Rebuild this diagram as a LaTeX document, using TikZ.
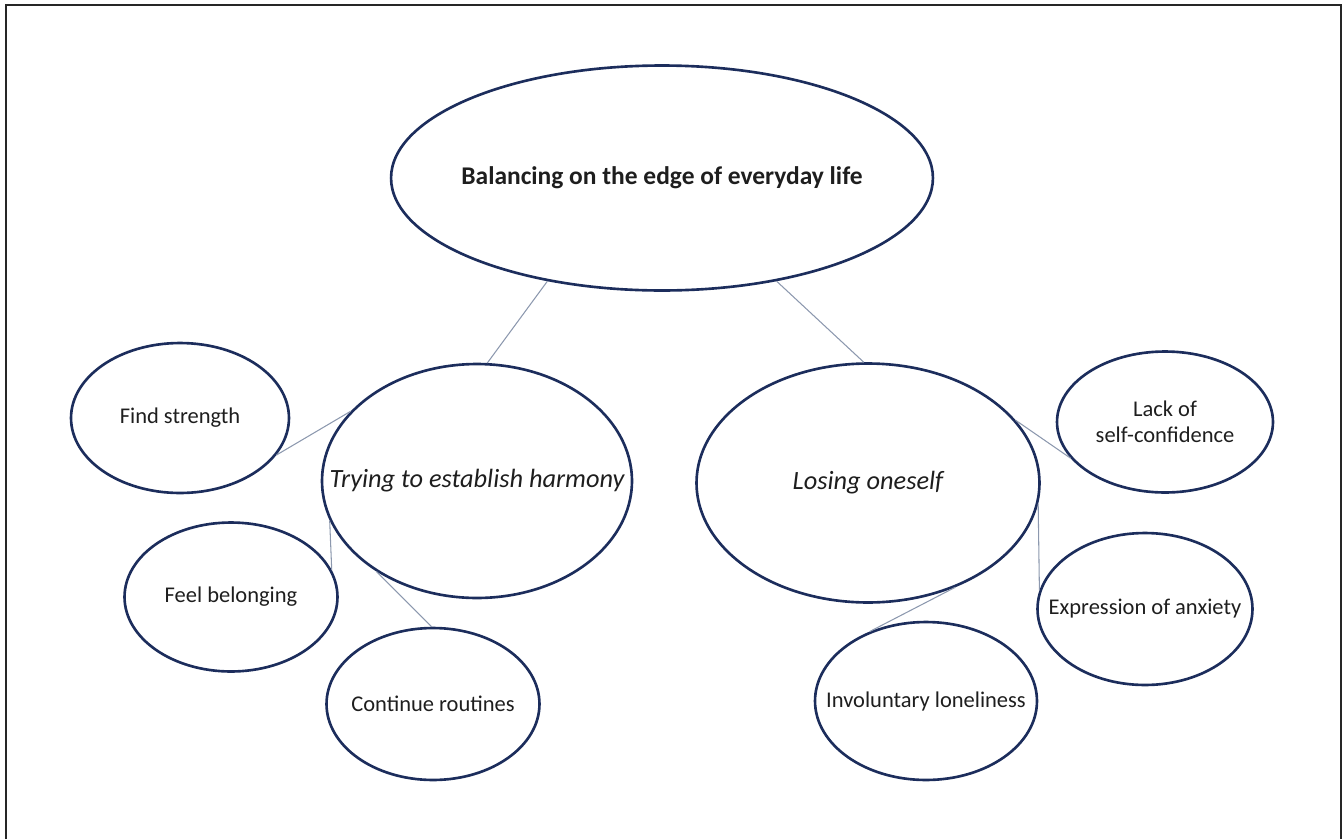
\documentclass[tikz,border=0pt]{standalone}
\usepackage{fontspec}
\setmainfont{Carlito}
\usetikzlibrary{shapes.geometric}

\definecolor{rand}{RGB}{28,45,92}
\definecolor{verbfarbe}{RGB}{140,152,174}
\definecolor{schrift}{RGB}{30,30,30}

% Text ohne Einfluss auf die Ellipsengroesse
\newcommand{\mitte}[1]{\makebox[0pt][c]{#1}}

\begin{document}
\begin{tikzpicture}[x=0.02cm, y=-0.02cm,
	kreis/.style 2 args={ellipse, draw=rand, line width=1.5pt, inner sep=0pt,
		minimum width=#1, minimum height=#2, text=schrift, align=center,
		font=\fontsize{12.8}{15}\selectfont},
	thema/.style={font=\fontsize{15}{18}\selectfont\itshape},
	verb/.style={draw=verbfarbe, line width=0.6pt}]
%
\useasboundingbox (0,0) rectangle (1343,839);

%Rahmen
	\draw [line width=1.1pt, black!85] (6,839) -- (6,5) -- (1341,5) -- (1341,839);

%Knoten
	\node [kreis={10.84cm}{4.5cm}, font=\fontsize{14.5}{17}\selectfont\bfseries] (top) at (662,178) {\mitte{Balancing on the edge of everyday life}};

	\node [kreis={6.2cm}{4.68cm}, thema] (try) at (477,481) {\mitte{Trying to establish harmony}};
	\node [kreis={6.86cm}{4.78cm}, thema] (lose) at (868,483) {\mitte{Losing oneself}};

	\node [kreis={4.36cm}{3.0cm}] (find) at (180,418) {\mitte{Find strength}};
	\node [kreis={4.26cm}{2.98cm}] (feel) at (231,597) {\mitte{Feel belonging}};
	\node [kreis={4.26cm}{3.04cm}] (cont) at (433,704) {\mitte{Continue routines}};

	\node [kreis={4.32cm}{2.82cm}] (lack) at (1165,422) {\mitte{Lack of}\\\mitte{self-confidence}};
	\node [kreis={4.3cm}{3.04cm}] (expr) at (1145,609) {\mitte{Expression of anxiety}};
	\node [kreis={4.44cm}{3.16cm}] (invol) at (926,701) {\mitte{Involuntary loneliness}};

%Verbindungen
	\foreach \a/\b in {top.222/try.85, top.318/lose.92, find.339/try.151,
		try.195/feel.15, try.222/cont.91, lose.23/lack.201,
		lose.353/expr.170, lose.310/invol.129}{
		\draw [verb] (\a) -- (\b);
	}

\end{tikzpicture}
\end{document}
